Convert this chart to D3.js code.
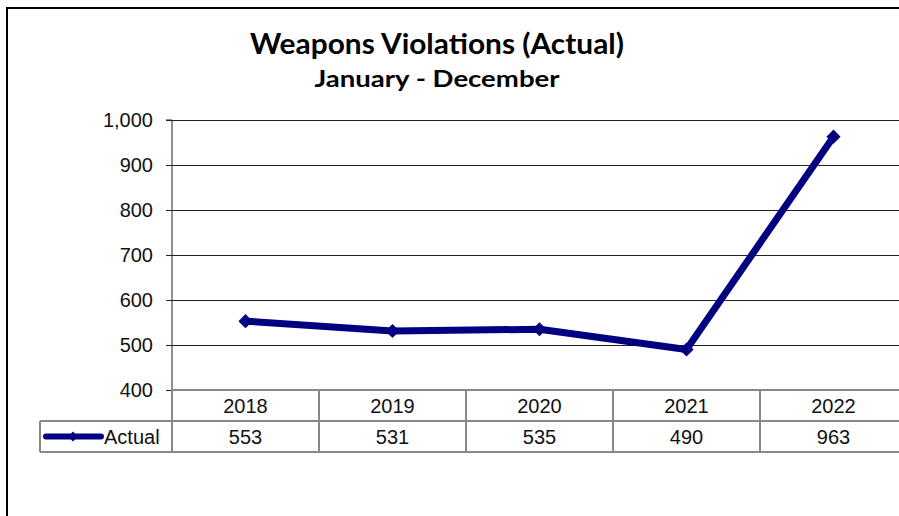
<!DOCTYPE html>
<html><head><meta charset="utf-8">
<script src="https://cdn.jsdelivr.net/npm/d3@7"></script>
<style>body{margin:0;background:#fff;}svg{display:block;}</style>
</head><body>
<svg id="c" width="899" height="516"></svg>
<script>
const title = "Weapons Violations (Actual)";
const subtitle = "January - December";
const categories = ["2018","2019","2020","2021","2022"];
const seriesName = "Actual";
const values = [553,531,535,490,963];
const yTicks = [400,500,600,700,800,900,1000];

(function(){
const svg = d3.select("#c");
const navy = "#000080";
const pL = 172, pR = 907, pT = 120, pB = 390;
const rowH = 31;
const fs = 20;
const ff = "Liberation Sans, Arial, sans-serif";

svg.append("path").attr("d","M7,520 L7,8 L905,8").attr("fill","none").attr("stroke","#000").attr("stroke-width",2);

svg.append("text").attr("x",437).attr("y",54).attr("text-anchor","middle")
  .attr("font-family","Lato, sans-serif").attr("font-weight","bold").attr("font-size",28)
  .attr("textLength",374).attr("lengthAdjust","spacingAndGlyphs").attr("fill","#000").text(title);
svg.append("text").attr("x",437).attr("y",87).attr("text-anchor","middle")
  .attr("font-family","Lato, sans-serif").attr("font-weight","bold").attr("font-size",23)
  .attr("textLength",245).attr("lengthAdjust","spacingAndGlyphs").attr("fill","#000").text(subtitle);

const x = d3.scaleBand().domain(categories).range([pL,pR]);
const y = d3.scaleLinear().domain([400,1000]).range([pB,pT]);

svg.append("g").selectAll("line").data(yTicks.filter(t=>t>400)).join("line")
  .attr("x1",pL).attr("x2",pR).attr("y1",d=>y(d)).attr("y2",d=>y(d))
  .attr("stroke","#222").attr("stroke-width",1).attr("shape-rendering","crispEdges");

const ya = svg.append("g").attr("transform",`translate(${pL},0)`)
  .call(d3.axisLeft(y).tickValues(yTicks).tickSize(6).tickPadding(13).tickFormat(d3.format(",")));
ya.select(".domain").attr("stroke","#222").attr("d",`M-6,${pT}H0V${pB}`);
ya.selectAll(".tick line").attr("stroke","#222");
ya.selectAll("text").attr("font-family",ff).attr("font-size",fs).attr("fill","#111").attr("dy","0.3em");

const tg = svg.append("g");
const gray = "#888";
const tw = 2;
tg.append("line").attr("x1",pL).attr("x2",pR+2).attr("y1",pB).attr("y2",pB).attr("stroke",gray).attr("stroke-width",tw);
tg.append("line").attr("x1",40).attr("x2",pR+2).attr("y1",pB+rowH).attr("y2",pB+rowH).attr("stroke",gray).attr("stroke-width",tw);
tg.append("line").attr("x1",40).attr("x2",pR+2).attr("y1",pB+2*rowH).attr("y2",pB+2*rowH).attr("stroke",gray).attr("stroke-width",tw);
tg.append("line").attr("x1",40).attr("x2",40).attr("y1",pB+rowH).attr("y2",pB+2*rowH).attr("stroke",gray).attr("stroke-width",tw);
const bounds = categories.map(c=>x(c)).concat([pR]);
tg.selectAll("line.v").data(bounds).join("line").attr("class","v")
  .attr("x1",d=>d).attr("x2",d=>d).attr("y1",pB).attr("y2",pB+2*rowH).attr("stroke",gray).attr("stroke-width",tw);
tg.selectAll("text.cat").data(categories).join("text").attr("class","cat")
  .attr("x",d=>x(d)+x.bandwidth()/2).attr("y",pB+rowH/2+7).attr("text-anchor","middle")
  .attr("font-family",ff).attr("font-size",fs).attr("fill","#111").text(d=>d);
tg.selectAll("text.val").data(values).join("text").attr("class","val")
  .attr("x",(d,i)=>x(categories[i])+x.bandwidth()/2).attr("y",pB+rowH*1.5+7).attr("text-anchor","middle")
  .attr("font-family",ff).attr("font-size",fs).attr("fill","#111").text(d=>d);

const ly = pB+rowH*1.5;
tg.append("line").attr("x1",46).attr("x2",101).attr("y1",ly).attr("y2",ly).attr("stroke",navy).attr("stroke-width",6).attr("stroke-linecap","round");
tg.append("path").attr("d",d3.symbol().type(d3.symbolSquare).size(50)()).attr("transform",`translate(73,${ly}) rotate(45)`).attr("fill",navy);
tg.append("text").attr("x",104).attr("y",ly+7).attr("font-family",ff).attr("font-size",fs).attr("fill","#111").text(seriesName);

const pts = values.map((v,i)=>[x(categories[i])+x.bandwidth()/2, y(v)]);
svg.append("path").attr("d",d3.line()(pts)).attr("fill","none").attr("stroke",navy).attr("stroke-width",7).attr("stroke-linejoin","round");
svg.append("g").selectAll("path").data(pts).join("path")
  .attr("d",d3.symbol().type(d3.symbolSquare).size(100)())
  .attr("transform",d=>`translate(${d[0]},${d[1]}) rotate(45)`).attr("fill",navy);
})();
</script>
</body></html>
